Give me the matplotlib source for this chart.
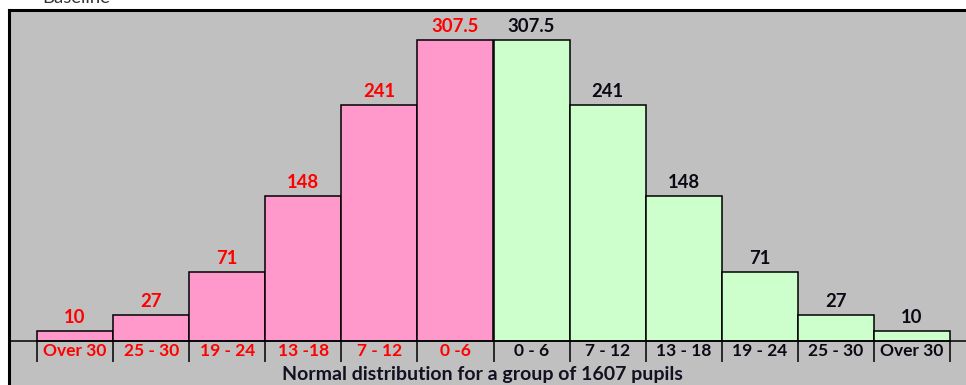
import matplotlib
matplotlib.use("Agg")
import matplotlib.pyplot as plt

# ---- data ----
left_labels = ["Over 30", "25 - 30", "19 - 24", "13 -18", "7 - 12", "0 -6"]
right_labels = ["0 - 6", "7 - 12", "13 - 18", "19 - 24", "25 - 30", "Over 30"]
left_values = [10, 27, 71, 148, 241, 307.5]
right_values = [307.5, 241, 148, 71, 27, 10]
left_value_text = ["10", "27", "71", "148", "241", "307.5"]
right_value_text = ["307.5", "241", "148", "71", "27", "10"]
x_title = "Normal distribution for a group of 1607 pupils"
top_title = "Baseline"

# ---- style ----
W, H = 966, 385
DPI = 100
PINK = "#FF99CC"
GREEN = "#CCFFCC"
GRAY = "#C0C0C0"
RED = "#FF0000"
DARK = "#0A0A14"
FONT = "Lato"
FS_VAL = 13.3
FS_TICK = 12.5
FS_TITLE = 14.0

fig = plt.figure(figsize=(W / DPI, H / DPI), dpi=DPI)
fig.patch.set_facecolor("white")

ax_left_px, ax_top_px = 9, 10
ax = fig.add_axes([ax_left_px / W, 0, 1 - ax_left_px / W + 0.01, (H - ax_top_px) / H])
ax.set_facecolor(GRAY)

# map pixel layout to data units
bar_left_px, bar_right_px, base_px = 37, 950, 341
n = len(left_values) + len(right_values)
ux = (bar_right_px - bar_left_px) / n  # px per unit x
top_bar_px = 40
uy = (base_px - top_bar_px) / max(left_values + right_values)
ax_right_px = W + 0.01 * W
ax.set_xlim(-0.5 - (bar_left_px - ax_left_px) / ux, -0.5 + (ax_right_px - bar_left_px) / ux)
ax.set_ylim(-(H - base_px) / uy, (base_px - ax_top_px) / uy)

labels = left_labels + right_labels
values = left_values + right_values
vtext = left_value_text + right_value_text
colors = [PINK] * len(left_values) + [GREEN] * len(right_values)
tcolors = [RED] * len(left_values) + [DARK] * len(right_values)
xs = list(range(n))

ax.bar(xs, values, width=1.0, color=colors, edgecolor="black", linewidth=1.1, zorder=2)
ax.axhline(0, color="black", linewidth=1.1, zorder=3)

edges = [x - 0.5 for x in xs] + [xs[-1] + 0.5]
tick_len = 21 / uy
ax.vlines(edges, -tick_len, 0, color="black", linewidth=1.1, zorder=3)

for x, v, t, c in zip(xs, values, vtext, tcolors):
    ax.annotate(t, (x, v), xytext=(0, 3.5), textcoords="offset points",
                ha="center", va="bottom", color=c, fontsize=FS_VAL,
                fontweight="bold", family=FONT)
    ax.annotate(labels[x], (x, 0), xytext=(0, -7.0), textcoords="offset points",
                ha="center", va="center", color=c, fontsize=FS_TICK,
                fontweight="bold", family=FONT)

ax.text(5.35, -(H - base_px - 2) / uy, x_title, ha="center", va="bottom",
        fontsize=FS_TITLE, fontweight="bold", family=FONT, color="#111122")

for s in ["right", "bottom"]:
    ax.spines[s].set_visible(False)
for s in ["left", "top"]:
    ax.spines[s].set_linewidth(2.2)
    ax.spines[s].set_color("black")
ax.set_xticks([])
ax.set_yticks([])

fig.text(42 / W, 1 - 3 / H, top_title, ha="left", va="baseline",
         fontsize=FS_VAL, family=FONT, color="#333333")

fig.savefig("out.png", dpi=DPI, facecolor=fig.get_facecolor())
